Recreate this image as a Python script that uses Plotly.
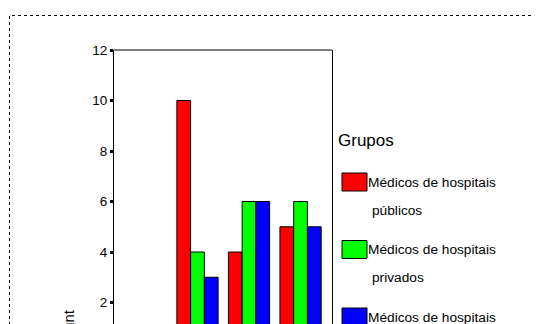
import plotly.graph_objects as go

categories = ["1", "2", "3", "4"]
series_names = ["Médicos de hospitais públicos",
                "Médicos de hospitais privados",
                "Médicos de hospitais"]
legend_line1 = ["Médicos de hospitais", "Médicos de hospitais", "Médicos de hospitais"]
legend_line2 = ["públicos", "privados", ""]
colors = ["#FF0000", "#00FF00", "#0000FF"]
publicos = [1, 10, 4, 5]
privados = [1, 4, 6, 6]
outros = [1, 3, 6, 5]
values = [publicos, privados, outros]
y_ticks = [2, 4, 6, 8, 10, 12]

OFF = 8  # page body margin
W, H = 541 - OFF, 324 - OFF
L, R, T, B = 114 - OFF, 332 - OFF, 50 - OFF, 324 - OFF
pw, ph = R - L, B - T

def px(x):
    return (x - OFF - L) / pw

def py(y):
    return (B - (y - OFF)) / ph

FONT = "Arial, Liberation Sans, sans-serif"

fig = go.Figure()
for name, col, vals in zip(series_names, colors, values):
    fig.add_trace(go.Bar(x=categories, y=vals, name=name,
                         marker=dict(color=col, line=dict(color="black", width=1)),
                         showlegend=False))

fig.update_layout(
    width=W, height=H,
    margin=dict(l=L, r=W - R, t=T, b=0),
    paper_bgcolor="white", plot_bgcolor="white",
    barmode="group", bargap=0.2, bargroupgap=0,
    font=dict(family=FONT, color="black"),
    xaxis=dict(range=[-0.62, 3.61], showticklabels=False, ticks="",
               showgrid=False, zeroline=False, showline=False),
    yaxis=dict(range=[1.15, 12], tickvals=y_ticks, ticks="outside",
               ticklen=3, tickwidth=2.5, tickcolor="black",
               showline=True, linecolor="black", linewidth=1, mirror=True,
               showgrid=False, zeroline=False,
               tickfont=dict(size=13.5, family=FONT, color="black")),
)

shapes = []
shapes.append(dict(type="line", xref="paper", yref="paper", x0=0, x1=1, y0=1, y1=1,
                   line=dict(color="black", width=1)))
shapes.append(dict(type="rect", xref="paper", yref="paper",
                   x0=px(9.5), x1=3, y0=-1, y1=py(15.5),
                   line=dict(color="black", width=1, dash="dot")))
annotations = []
annotations.append(dict(text="Grupos", x=px(336), y=py(140), xref="paper", yref="paper",
                        xanchor="left", yanchor="middle", showarrow=False,
                        font=dict(size=17, family=FONT, color="black")))
for i, col in enumerate(colors):
    top = 173 + 67.5 * i
    shapes.append(dict(type="rect", xref="paper", yref="paper",
                       x0=px(342), x1=px(367), y0=py(top + 18), y1=py(top),
                       fillcolor=col, line=dict(color="black", width=1)))
    cy = top + 9
    annotations.append(dict(text=legend_line1[i], x=px(366), y=py(cy), xref="paper",
                            yref="paper", xanchor="left", yanchor="middle",
                            showarrow=False,
                            font=dict(size=13.7, family=FONT, color="black")))
    if legend_line2[i]:
        annotations.append(dict(text=legend_line2[i], x=px(370), y=py(cy + 28),
                                xref="paper", yref="paper", xanchor="left",
                                yanchor="middle", showarrow=False,
                                font=dict(size=13.7, family=FONT, color="black")))
annotations.append(dict(text="Count", x=px(68), y=py(330), xref="paper", yref="paper",
                        xanchor="center", yanchor="middle", textangle=-90,
                        showarrow=False, font=dict(size=15, family=FONT, color="black")))
fig.update_layout(shapes=shapes, annotations=annotations)

fig.write_html("out.html")
